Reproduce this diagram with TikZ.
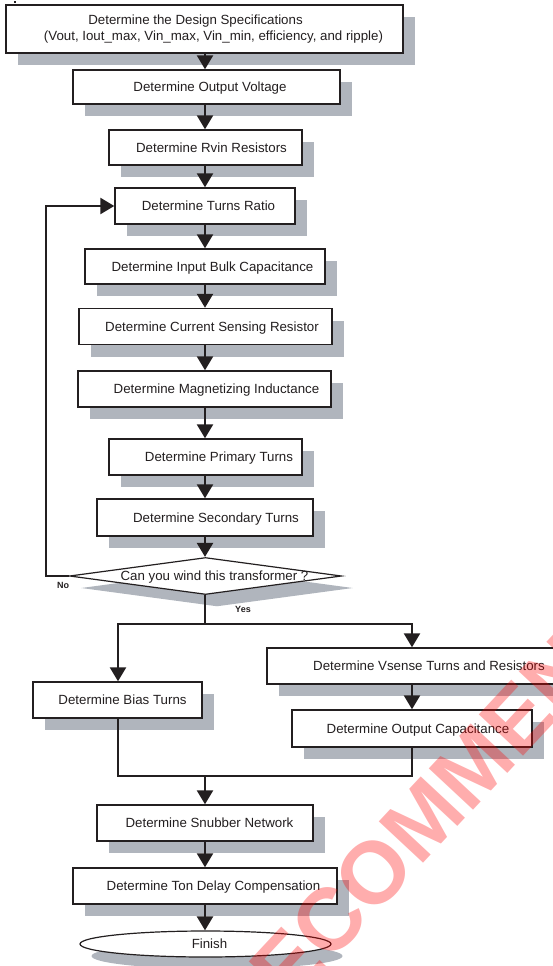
\documentclass[tikz,border=0pt]{standalone}
\usepackage{fontspec}
\setmainfont{Liberation Sans}
\usetikzlibrary{arrows.meta,shapes.geometric,shadows}
\definecolor{shadowgray}{RGB}{176,181,189}
\definecolor{ink}{RGB}{35,31,32}
\tikzset{
  box/.style={draw=ink, line width=1.4pt, fill=white, rectangle, inner sep=0pt,
    font=\fontsize{13.3}{15.5}\selectfont, text=ink,
    drop shadow={shadow xshift=11.5pt, shadow yshift=-12pt, fill=shadowgray, opacity=1}},
  onel/.style={text height=12pt, text depth=2.4pt},
  conn/.style={draw=ink, line width=2.4pt, line join=miter},
  arr/.style={conn, -{Triangle[length=14pt,width=16pt]}},
  lbl/.style={font=\bfseries\fontsize{9}{10}\selectfont, text=ink, inner sep=0pt}
}
\begin{document}
\begin{tikzpicture}[x=1pt,y=-1pt]
\useasboundingbox (0,0) rectangle (553,966);
\begin{scope}
\clip (0,0) rectangle (553,966);
\fill[ink] (14,1) rectangle (16,3);
\coordinate (sp) at (205,0);
% boxes
\node[box, minimum width=397pt, minimum height=48pt, align=center] (spec) at (204.5,29)
  {\hspace*{-18pt}Determine the Design Specifications\\\hspace*{18pt}(Vout, Iout\_max, Vin\_max, Vin\_min, efficiency, and ripple)};
\node[box, onel, minimum width=267pt, minimum height=34pt] (outv) at (206.5,87) {\hspace*{7pt}Determine Output Voltage};
\node[box, onel, minimum width=193pt, minimum height=35pt] (rvin) at (205.5,147.5) {\hspace*{12pt}Determine Rvin Resistors};
\node[box, onel, minimum width=180pt, minimum height=36pt] (turns) at (205,206) {\hspace*{7pt}Determine Turns Ratio};
\node[box, onel, minimum width=240pt, minimum height=35pt] (bulk) at (205,266.5) {\hspace*{15pt}Determine Input Bulk Capacitance};
\node[box, onel, minimum width=253pt, minimum height=36pt] (cur) at (205.5,326.5) {\hspace*{13pt}Determine Current Sensing Resistor};
\node[box, onel, minimum width=253pt, minimum height=36pt] (mag) at (204.5,389) {\hspace*{24pt}Determine Magnetizing Inductance};
\node[box, onel, minimum width=193pt, minimum height=36pt] (prim) at (205.5,457) {\hspace*{27pt}Determine Primary Turns};
\node[box, onel, minimum width=216pt, minimum height=37pt] (sec) at (205,517.5) {\hspace*{22pt}Determine Secondary Turns};
% decision
\node[box, shape=diamond, minimum width=272pt, minimum height=37pt, line width=1.2pt] (dia) at (205.5,576) {};
\node[font=\fontsize{13.3}{15.5}\selectfont, text=ink, inner sep=0pt, onel] (diat) at (214.5,576) {Can you wind this transformer ?};
\node[lbl] (no) at (63,585.5) {No};
\node[lbl] (yes) at (243,609.5) {Yes};
% branches
\node[box, onel, minimum width=169pt, minimum height=36pt] (bias) at (117.5,700) {\hspace*{10pt}Determine Bias Turns};
\node[box, onel, minimum width=308pt, minimum height=36pt] (vs) at (421,666) {\hspace*{16pt}Determine Vsense Turns and Resistors};
\node[box, onel, minimum width=240pt, minimum height=37pt] (oc) at (412,728.5) {\hspace*{12pt}Determine Output Capacitance};
\node[box, onel, minimum width=216pt, minimum height=36pt] (snub) at (205,823) {\hspace*{9pt}Determine Snubber Network};
\node[box, onel, minimum width=264pt, minimum height=36pt] (ton) at (205,886) {\hspace*{17pt}Determine Ton Delay Compensation};
\node[box, onel, shape=ellipse, minimum width=251pt, minimum height=26pt, line width=1.2pt] (fin) at (205.5,944) {\hspace*{8pt}Finish};
% connectors
\draw[arr] (spec.south -| sp) -- (outv.north -| sp);
\draw[arr] (outv.south -| sp) -- (rvin.north -| sp);
\draw[arr] (rvin.south -| sp) -- (turns.north -| sp);
\draw[arr] (turns.south -| sp) -- (bulk.north -| sp);
\draw[arr] (bulk.south -| sp) -- (cur.north -| sp);
\draw[arr] (cur.south -| sp) -- (mag.north -| sp);
\draw[arr] (mag.south -| sp) -- (prim.north -| sp);
\draw[arr] (prim.south -| sp) -- (sec.north -| sp);
\draw[arr] (sec.south -| sp) -- (dia.north -| sp);
\draw[arr] (dia.west) -- ++(-23,0) |- (turns.west);
\coordinate (split) at (205,624);
\coordinate (lb) at (118,0);
\coordinate (rb) at (412,0);
\draw[conn] (dia.south -| sp) -- (split);
\draw[arr] (split) -| (bias.north -| lb);
\draw[arr] (split) -| (vs.north -| rb);
\draw[arr] (vs.south -| rb) -- (oc.north -| rb);
\coordinate (merge) at (205,776);
\draw[conn] (bias.south -| lb) |- (merge) -| (oc.south -| rb);
\draw[arr] (merge) -- (snub.north -| sp);
\draw[arr] (snub.south -| sp) -- (ton.north -| sp);
\draw[arr] (ton.south -| sp) -- (fin.north -| sp);
% watermark
\node[rotate=47, anchor=base west, inner sep=0pt, text=red, opacity=0.32,
  font=\bfseries\fontsize{88}{90}\selectfont] (wm) at (246,1054) {RECOMMENDED};
\end{scope}
\end{tikzpicture}
\end{document}
